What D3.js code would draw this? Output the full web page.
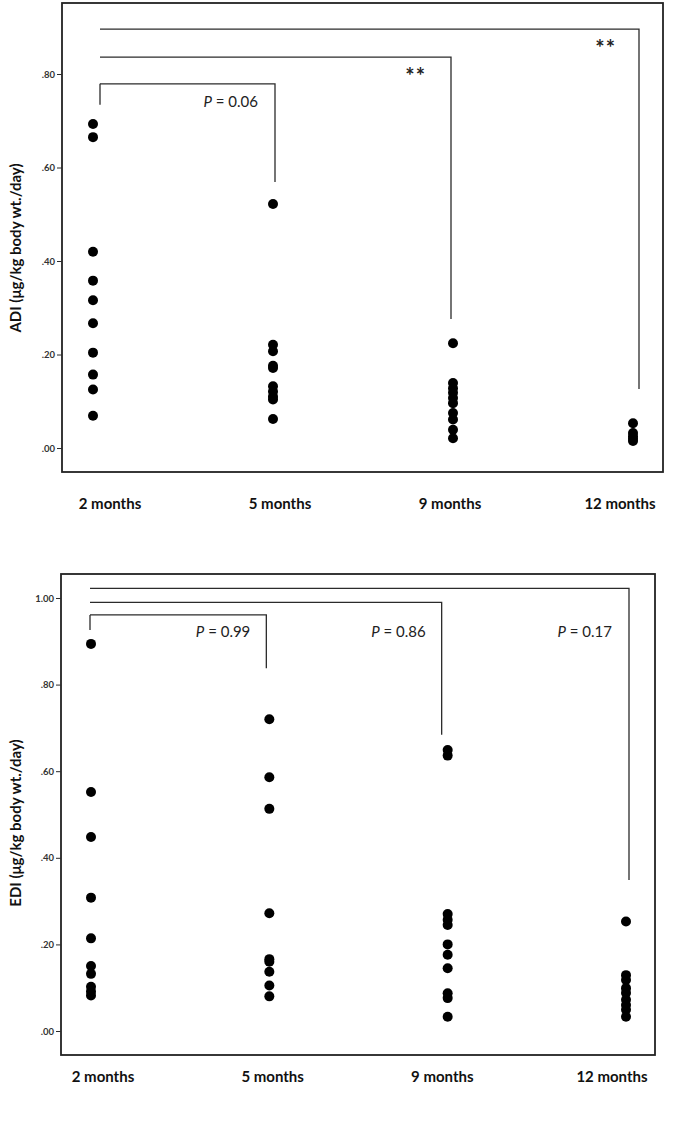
<!DOCTYPE html>
<html><head><meta charset="utf-8">
<script src="https://cdn.jsdelivr.net/npm/d3@7"></script>
<style>body{margin:0;background:#fff}svg{display:block}</style>
</head><body>
<script>
// ---- data ----
const categories = ["2 months", "5 months", "9 months", "12 months"];
const adi2  = [0.693, 0.665, 0.420, 0.358, 0.316, 0.267, 0.204, 0.157, 0.125, 0.069];
const adi5  = [0.522, 0.221, 0.207, 0.176, 0.171, 0.132, 0.121, 0.110, 0.104, 0.062];
const adi9  = [0.224, 0.139, 0.128, 0.118, 0.107, 0.096, 0.075, 0.061, 0.039, 0.021];
const adi12 = [0.053, 0.032, 0.025, 0.020, 0.015];
const edi2  = [0.894, 0.552, 0.448, 0.308, 0.214, 0.150, 0.132, 0.102, 0.091, 0.082];
const edi5  = [0.720, 0.586, 0.513, 0.272, 0.166, 0.160, 0.137, 0.105, 0.080];
const edi9  = [0.649, 0.636, 0.270, 0.257, 0.245, 0.200, 0.176, 0.145, 0.087, 0.076, 0.033];
const edi12 = [0.253, 0.129, 0.118, 0.099, 0.088, 0.072, 0.060, 0.049, 0.033];
const adiTicks = [0, 0.2, 0.4, 0.6, 0.8];
const ediTicks = [0, 0.2, 0.4, 0.6, 0.8, 1.0];
const adiLabels = ["P = 0.06", "**", "**"];
const ediLabels = ["P = 0.99", "P = 0.86", "P = 0.17"];

const W = 675, H = 1136;
const svg = d3.select("body").append("svg").attr("width", W).attr("height", H);
const ink = "#2b2b2b";

function panel(cfg) {
  const g = svg.append("g");
  const x = d3.scalePoint().domain(categories).range(cfg.xr);
  const xl = d3.scalePoint().domain(categories).range(cfg.xlab);
  const y = d3.scaleLinear().domain(cfg.yd).range([cfg.bottom, cfg.top]);

  // frame
  g.append("rect").attr("x", cfg.left).attr("y", cfg.top)
    .attr("width", cfg.right - cfg.left).attr("height", cfg.bottom - cfg.top)
    .attr("fill", "none").attr("stroke", "#222").attr("stroke-width", 1.8);

  // y axis
  const ax = g.append("g").attr("transform", `translate(${cfg.left},0)`)
    .call(d3.axisLeft(y).tickValues(cfg.ticks).tickSize(5).tickPadding(2)
      .tickFormat(v => v === 1 ? "1.00" : d3.format(".2f")(v).replace(/^0/, "")));
  ax.select(".domain").remove();
  ax.selectAll("line").attr("stroke", ink).attr("stroke-width", 1);
  ax.selectAll("text").attr("font-family", "Lato, 'Open Sans', sans-serif")
    .attr("font-size", 9.5).attr("font-weight", "bold").attr("fill", "#333");

  // y title
  g.append("text").attr("transform", `translate(${cfg.titleX},${cfg.titleY}) rotate(-90)`)
    .attr("text-anchor", "middle").attr("font-family", "Lato, 'Open Sans', sans-serif")
    .attr("font-weight", "bold").attr("font-size", 15).attr("fill", "#111")
    .text(cfg.title);

  // category labels
  g.selectAll("text.cat").data(categories).join("text").attr("class", "cat")
    .attr("x", d => xl(d)).attr("y", cfg.labY).attr("text-anchor", "middle")
    .attr("font-family", "Lato, 'Open Sans', sans-serif").attr("font-weight", "bold")
    .attr("font-size", 15).attr("fill", "#111").text(d => d);

  // brackets
  const bx0 = x(categories[0]) + cfg.b0dx;
  cfg.brackets.forEach((b, i) => {
    const xe = x(categories[i + 1]) + b.dx;
    g.append("path")
      .attr("d", `M${bx0},${y(b.level)}H${xe}V${y(b.end)}`)
      .attr("fill", "none").attr("stroke", ink).attr("stroke-width", 1.3);
    const t = g.append("text").attr("x", xe + b.tdx).attr("y", y(b.level) + b.tdy)
      .attr("text-anchor", "end").attr("font-family", "Lato, 'Open Sans', sans-serif")
      .attr("fill", "#222");
    if (b.label.startsWith("P")) {
      t.attr("font-size", 15);
      t.append("tspan").attr("font-style", "italic").text("P");
      t.append("tspan").text(b.label.slice(1));
    } else {
      t.attr("font-size", 22).attr("font-weight", "bold").attr("letter-spacing", 1).text(b.label);
    }
  });
  g.append("line").attr("x1", bx0).attr("x2", bx0)
    .attr("y1", y(cfg.brackets[0].level)).attr("y2", y(cfg.b0end))
    .attr("stroke", ink).attr("stroke-width", 1.3);

  // points
  cfg.series.forEach((vals, i) => {
    g.selectAll(null).data(vals).join("circle")
      .attr("cx", x(categories[i])).attr("cy", d => y(d)).attr("r", 5).attr("fill", "#000");
  });
}

panel({
  left: 62, right: 663, top: 3, bottom: 472, yd: [-0.0513, 0.9519],
  xr: [93, 633], xlab: [110, 620], labY: 509, ticks: adiTicks,
  title: "ADI (μg/kg body wt./day)", titleX: 21, titleY: 248,
  series: [adi2, adi5, adi9, adi12],
  b0dx: 7, b0end: 0.734,
  brackets: [
    {level: 0.779, end: 0.569, dx: 2, label: adiLabels[0], tdx: -17, tdy: 23},
    {level: 0.836, end: 0.276, dx: -2, label: adiLabels[1], tdx: -25, tdy: 27},
    {level: 0.896, end: 0.126, dx: 6, label: adiLabels[2], tdx: -23, tdy: 27}
  ]
});

panel({
  left: 61, right: 655, top: 574, bottom: 1055, yd: [-0.0554, 1.0554],
  xr: [91, 626], xlab: [103, 612], labY: 1082, ticks: ediTicks,
  title: "EDI (μg/kg body wt./day)", titleX: 21, titleY: 823,
  series: [edi2, edi5, edi9, edi12],
  b0dx: -1, b0end: 0.926,
  brackets: [
    {level: 0.961, end: 0.838, dx: -3, label: ediLabels[0], tdx: -16, tdy: 22},
    {level: 0.990, end: 0.684, dx: -6, label: ediLabels[1], tdx: -16, tdy: 35},
    {level: 1.022, end: 0.349, dx: 3, label: ediLabels[2], tdx: -17, tdy: 49}
  ]
});
</script>
</body></html>
